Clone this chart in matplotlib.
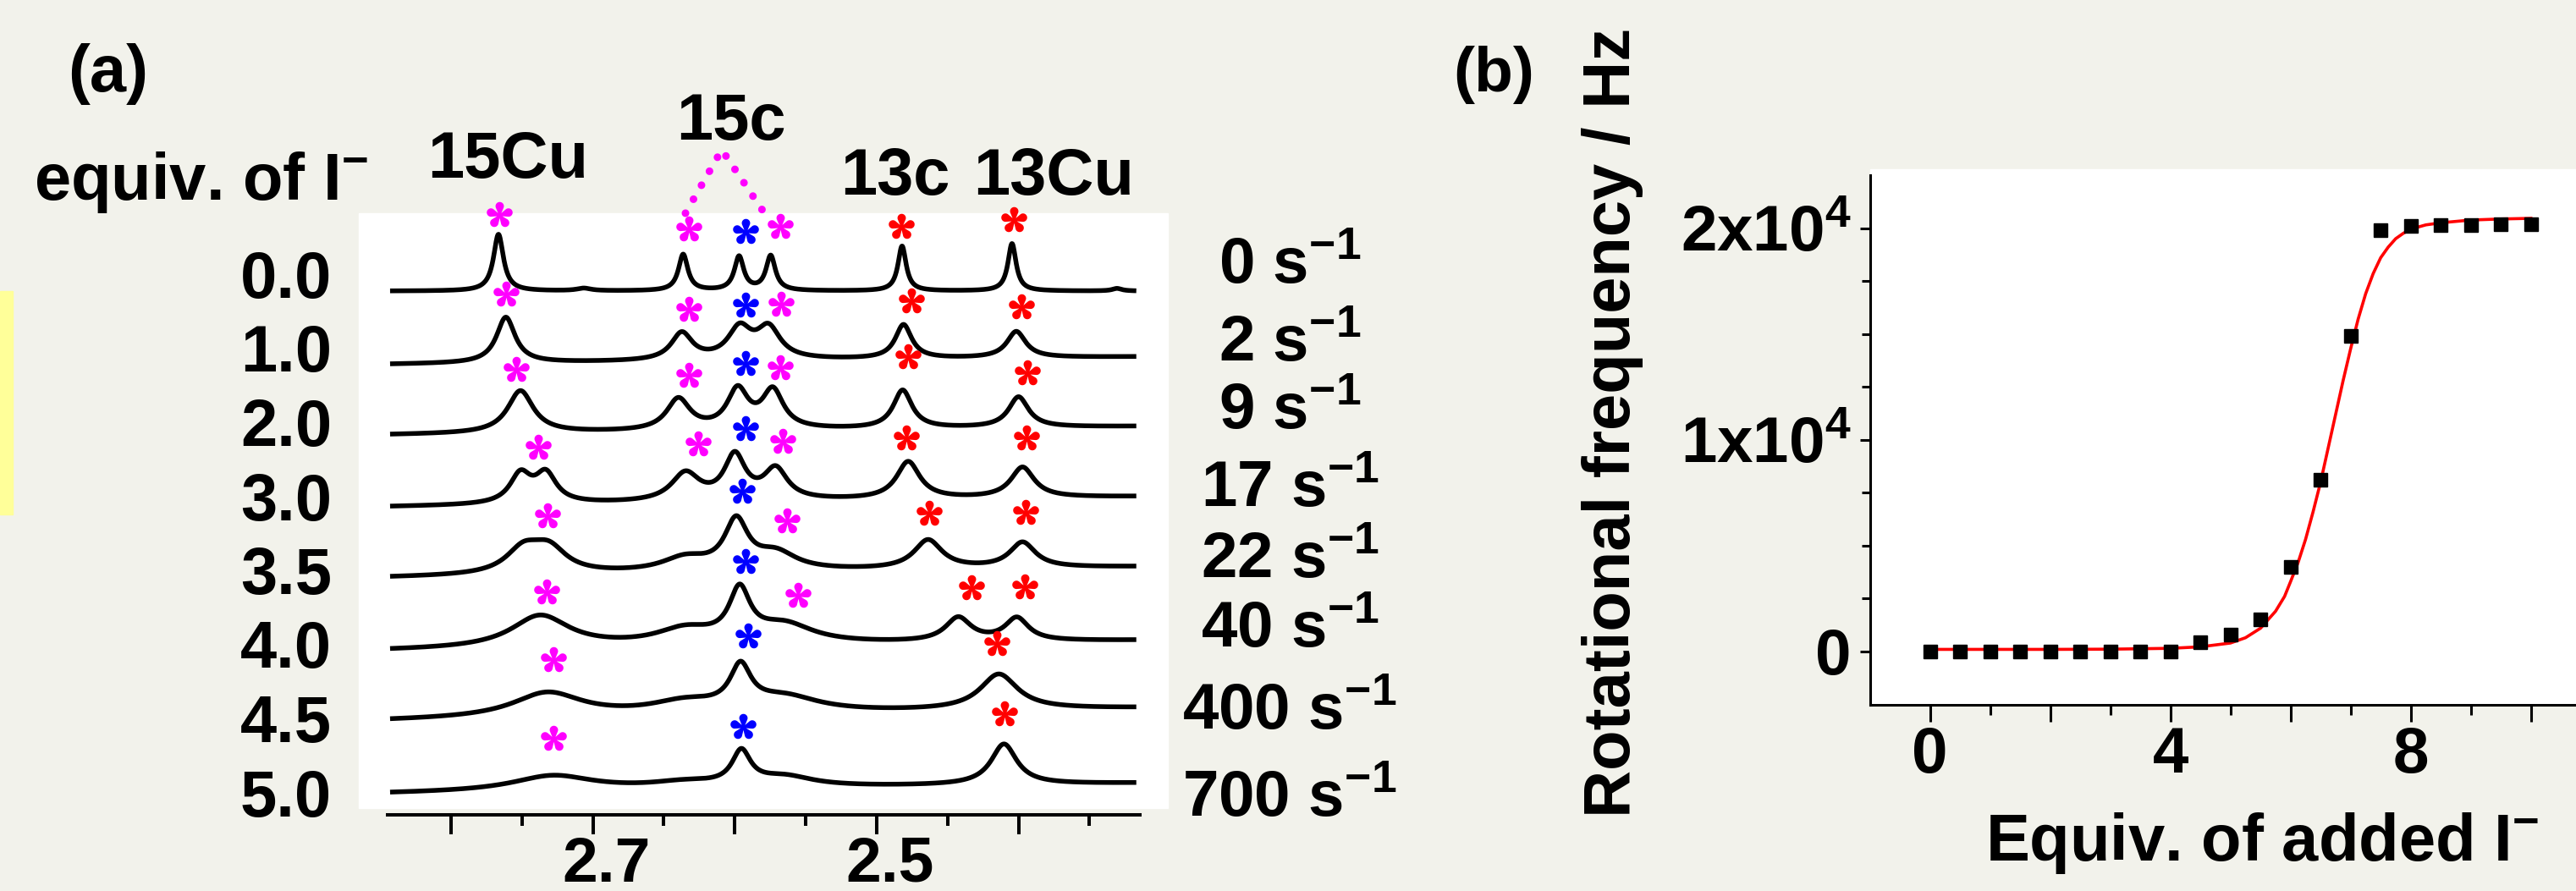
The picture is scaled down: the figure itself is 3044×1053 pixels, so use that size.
import numpy as np
import matplotlib
matplotlib.use('Agg')
import matplotlib.pyplot as plt
import matplotlib.transforms as mtransforms
from matplotlib.patches import Rectangle
from matplotlib.path import Path

plt.rcParams['font.family'] = ['Liberation Sans', 'DejaVu Sans']
plt.rcParams['font.weight'] = 'bold'
plt.rcParams['mathtext.fontset'] = 'custom'
plt.rcParams['mathtext.rm'] = 'Liberation Sans:bold'
plt.rcParams['mathtext.bf'] = 'Liberation Sans:bold'
plt.rcParams['mathtext.it'] = 'Liberation Sans:bold'
plt.rcParams['mathtext.default'] = 'rm'

W, H = 3044, 1053
BG = '#f2f2eb'

# ---------------- panel (a): stacked 1H NMR spectra ----------------
equiv_labels = ['0.0', '1.0', '2.0', '3.0', '3.5', '4.0', '4.5', '5.0']
rate_labels = ['0', '2', '9', '17', '22', '40', '400', '700']

# baseline of every trace at its left / right end (a.u.)
base_left = [618.7, 532, 448.7, 363.7, 280, 193.7, 110.7, 24.7]
base_right = [618.7, 541, 458.7, 375.7, 292.7, 205.7, 125.7, 37]

# peaks of every trace: (shift / ppm, height / a.u., width / ppm)
peaks_00 = [(2.7666, 67, 0.0085), (2.7064, 3, 0.012), (2.6364, 43, 0.008),
            (2.5970, 40, 0.008), (2.5747, 41, 0.008), (2.4821, 53, 0.007),
            (2.4046, 56, 0.007), (2.3306, 3, 0.008)]
peaks_10 = [(2.7614, 54, 0.016), (2.6374, 32, 0.018), (2.5966, 36, 0.02),
            (2.5762, 36, 0.02), (2.4811, 40, 0.014), (2.4016, 31, 0.016)]
peaks_20 = [(2.7511, 50, 0.022), (2.6398, 37, 0.02), (2.5980, 46, 0.018),
            (2.5732, 45, 0.018), (2.4817, 45, 0.016), (2.4000, 36, 0.017)]
peaks_30 = [(2.7511, 34, 0.018), (2.7332, 34, 0.018), (2.6348, 33, 0.024),
            (2.6000, 52, 0.018), (2.5712, 36, 0.02), (2.4778, 44, 0.02),
            (2.3972, 36, 0.02)]
peaks_35 = [(2.7490, 28, 0.03), (2.7310, 28, 0.03), (2.6350, 16, 0.04),
            (2.5990, 57, 0.02), (2.5710, 20, 0.035), (2.4638, 34, 0.024),
            (2.3972, 30, 0.022)]
peaks_40 = [(2.7372, 38, 0.05), (2.6350, 18, 0.05), (2.5966, 58, 0.018),
            (2.5650, 22, 0.05), (2.4425, 28, 0.022), (2.4012, 27, 0.02)]
peaks_45 = [(2.7322, 29, 0.06), (2.6350, 14, 0.06), (2.5960, 48, 0.018),
            (2.5650, 18, 0.06), (2.4139, 42, 0.032)]
peaks_50 = [(2.7283, 18, 0.07), (2.6350, 7, 0.06), (2.5954, 39, 0.016),
            (2.5650, 12, 0.05), (2.4103, 48, 0.022)]
row_peaks = [peaks_00, peaks_10, peaks_20, peaks_30,
             peaks_35, peaks_40, peaks_45, peaks_50]

# asterisks marking the signals (ppm, a.u.)
mag_ppm = [2.7660, 2.6324, 2.5682, 2.7614, 2.6324, 2.5676, 2.7541, 2.6324,
           2.5682, 2.7386, 2.6259, 2.5662, 2.7322, 2.5632, 2.7326, 2.5557,
           2.7277, 2.7277]
mag_int = [709.4, 692.7, 696.0, 616.0, 597.7, 603.4, 526.7, 520.0,
           528.4, 434.4, 438.4, 441.7, 353.4, 347.7, 263.4, 259.4,
           183.4, 91.0]
blue_ppm = [2.5926, 2.5926, 2.5926, 2.5926, 2.5950, 2.5926, 2.5905, 2.5944]
blue_int = [689.4, 602.7, 533.4, 457.0, 382.7, 299.4, 211.7, 105.0]
red_ppm = [2.4827, 2.4032, 2.4757, 2.3982, 2.4778, 2.3936, 2.4791, 2.3942,
           2.4628, 2.3952, 2.4334, 2.3958, 2.4151, 2.4101]
red_int = [696.0, 703.4, 607.7, 601.0, 541.7, 522.7, 446.0, 446.0,
           356.7, 357.7, 268.4, 269.4, 202.7, 120.0]
# dotted connector under "15c"
link_ppm = [2.6348, 2.6092, 2.5799]
link_int = [710.7, 785.7, 712.7]

# ---------------- panel (b): rotational frequency ----------------
equiv = [0, 0.5, 1, 1.5, 2, 2.5, 3, 3.5, 4, 4.5, 5, 5.5, 6, 6.5, 7, 7.5,
         8, 8.5, 9, 9.5, 10]
freq = [0, 0, 0, 0, 0, 0, 0, 0, 0, 450, 780, 1520, 3980, 8130, 14900, 19900,
        20100, 20160, 20160, 20200, 20200]
fit_x = [0, 1, 2, 3, 4, 4.5, 5, 5.25, 5.5, 5.75, 5.9, 6, 6.125, 6.25, 6.375,
         6.5, 6.625, 6.75, 6.875, 7, 7.125, 7.25, 7.375, 7.5, 7.625, 7.75,
         7.875, 8, 8.25, 8.5, 9, 9.5, 10]
fit_y = [100, 100, 100, 110, 150, 220, 400, 650, 1100, 1900, 2600, 3300,
         4200, 5300, 6600, 8000, 9600, 11200, 12800, 14300, 15700, 16900,
         17850, 18600, 19100, 19500, 19750, 19950, 20150, 20250, 20380,
         20430, 20460]


def fx(x):
    return x / W


def fy(y):
    return 1 - y / H


def px2pt(p):
    return p * 72 / 100


def petal_star(n=5, d=0.66, r=0.3, e=0.05):
    # n rounded petals, like the bold asterisk of the original figure
    verts, codes = [], []
    tang = np.arcsin(min(r / d, 0.99))
    arc = np.linspace(-tang, np.pi + tang, 30)
    for k in range(n):
        a = np.pi / 2 + 2 * np.pi * k / n
        local = [(e, 0.0)] + [(r * np.cos(t), d + r * np.sin(t)) for t in arc] + [(-e, 0.0)]
        ca, sa = np.cos(a - np.pi / 2), np.sin(a - np.pi / 2)
        pts = [(x * ca - y * sa, x * sa + y * ca) for x, y in local]
        verts += pts + [pts[0]]
        codes += [Path.MOVETO] + [Path.LINETO] * (len(pts) - 1) + [Path.CLOSEPOLY]
    verts = np.array(verts)
    verts[:, 0] -= (verts[:, 0].min() + verts[:, 0].max()) / 2
    verts[:, 1] -= (verts[:, 1].min() + verts[:, 1].max()) / 2
    return Path(verts, codes)


fig = plt.figure(figsize=(W / 100, H / 100), dpi=100, facecolor=BG)

# backgrounds
fig.patches.append(Rectangle((fx(0), fy(608)), fx(15), (608 - 344) / H,
                             transform=fig.transFigure, color='#ffff99', zorder=-2))
fig.patches.append(Rectangle((fx(424), fy(955)), fx(1380 - 424), (955 - 252) / H,
                             transform=fig.transFigure, color='white', zorder=-2))
fig.patches.append(Rectangle((fx(2210), fy(832)), fx(3044 - 2210), (832 - 200) / H,
                             transform=fig.transFigure, color='white', zorder=-2))

# ---- panel (a)
x0, x1 = 2.845, 2.3147
axa = fig.add_axes([fx(457.6), fy(962.7), fx(1346.6 - 457.6), (962.7 - 255) / H])
axa.set_facecolor('none')
axa.set_xlim(x0, x1)
axa.set_ylim(0, 707.7)

ppm = np.linspace(2.843, 2.317, 1500)
for i, peaks in enumerate(row_peaks):
    y = base_left[i] + (base_right[i] - base_left[i]) * (x0 - ppm) / (x0 - x1)
    for c, h, w in peaks:
        y = y + h / (1 + ((ppm - c) / (w / 2)) ** 2)
    axa.plot(ppm, y, color='black', lw=4.0, solid_capstyle='butt', clip_on=False)

star = petal_star()
axa.plot(link_ppm, link_int, color='#ff00ff', lw=6.5, ls=(0, (0.01, 2.1)),
         dash_capstyle='round', clip_on=False)
for xs, ys, col in [(mag_ppm, mag_int, '#ff00ff'), (blue_ppm, blue_int, '#0000ff'),
                    (red_ppm, red_int, '#ff0000')]:
    axa.plot(xs, ys, ls='none', marker=star, ms=22, color=col, mew=0, clip_on=False)

for s in ['left', 'right', 'top']:
    axa.spines[s].set_visible(False)
axa.spines['bottom'].set_linewidth(2.9)
axa.set_yticks([])
axa.set_xticks([2.8, 2.7, 2.6, 2.5, 2.4])
axa.set_xticklabels(['', '2.7', '', '2.5', ''])
axa.set_xticks([2.75, 2.65, 2.55, 2.45, 2.35], minor=True)
axa.tick_params(axis='x', which='major', length=px2pt(23), width=2.9, pad=1.5, labelsize=54)
axa.tick_params(axis='x', which='minor', length=px2pt(13), width=2.9)
shift = mtransforms.ScaledTranslation(0.16, 0, fig.dpi_scale_trans)
for lbl in axa.get_xticklabels():
    lbl.set_transform(lbl.get_transform() + shift)

fs = 56
fig.text(fx(80), fy(108), '(a)', ha='left', va='baseline', fontsize=fs)
fig.text(fx(40), fy(236), r'equiv. of I$^{-}$', ha='left', va='baseline', fontsize=fs)
fig.text(fx(600), fy(210), '15Cu', ha='center', va='baseline', fontsize=fs)
fig.text(fx(864), fy(165), '15c', ha='center', va='baseline', fontsize=fs)
fig.text(fx(1058), fy(230), '13c', ha='center', va='baseline', fontsize=fs)
fig.text(fx(1245), fy(230), '13Cu', ha='center', va='baseline', fontsize=fs)

label_base = [352, 439.5, 527, 614.5, 702, 789.5, 877, 964.5]
for lbl, yb in zip(equiv_labels, label_base):
    fig.text(fx(392), fy(yb), lbl, ha='right', va='baseline', fontsize=fs)

rate_base = [334.5, 426.6, 506.6, 598.7, 683.5, 765, 862, 964.7]
for lbl, yb in zip(rate_labels, rate_base):
    fig.text(fx(1524), fy(yb), lbl + r' s$^{-1}$', ha='center', va='baseline', fontsize=55)

# ---- panel (b)
axb = fig.add_axes([fx(2209.7), fy(832.5), fx(852), (832.5 - 207) / H])
axb.set_facecolor('white')
axb.plot(fit_x, fit_y, color='#ff0000', lw=2.6, zorder=2)
axb.plot(equiv, freq, ls='none', marker='s', ms=12, color='black', zorder=3)
axb.set_xlim(-1, 11)
axb.set_ylim(-2500, 22500)
axb.spines['top'].set_visible(False)
axb.spines['right'].set_visible(False)
axb.spines['left'].set_linewidth(2.2)
axb.spines['bottom'].set_linewidth(2.2)
axb.set_xticks([0, 2, 4, 6, 8, 10])
axb.set_xticklabels(['0', '', '4', '', '8', ''])
axb.set_xticks([1, 3, 5, 7, 9], minor=True)
axb.set_yticks([0, 10000, 20000])
axb.set_yticklabels(['0', r'1x10$^{4}$', r'2x10$^{4}$'])
axb.set_yticks([2500, 5000, 7500, 12500, 15000, 17500], minor=True)
axb.tick_params(axis='x', which='major', length=px2pt(20), width=2.2, pad=4, labelsize=55)
axb.tick_params(axis='x', which='minor', length=px2pt(12), width=2.2)
axb.tick_params(axis='y', which='major', length=px2pt(12), width=2.2, pad=7, labelsize=55)
axb.tick_params(axis='y', which='minor', length=px2pt(10), width=2.2)

fig.text(fx(1717), fy(108), '(b)', ha='left', va='baseline', fontsize=54)
fig.text(fx(1905), fy(499), 'Rotational frequency / Hz', rotation=90,
         ha='center', va='center', fontsize=fs)
fig.text(fx(2673.6), fy(1016.7), r'Equiv. of added I$^{-}$', ha='center',
         va='baseline', fontsize=fs)

fig.savefig('out.png', dpi=100, facecolor=BG)
